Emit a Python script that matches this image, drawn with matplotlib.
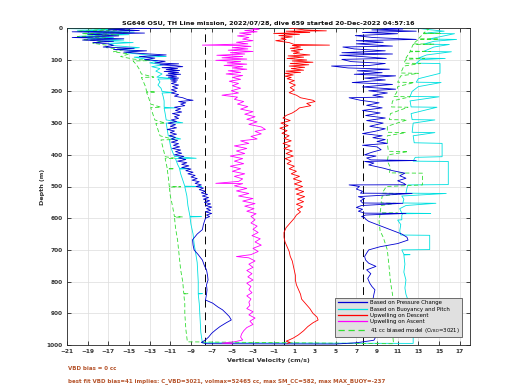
import matplotlib
matplotlib.use("Agg")
import matplotlib.pyplot as plt
import numpy as np

TITLE = "SG646 OSU, TH Line mission, 2022/07/28, dive 659 started 20-Dec-2022 04:57:16"
XTICKS = list(range(-21, 18, 2))
YTICKS = list(range(0, 1001, 100))
VLINE_DASHED = [-7.6, 7.6]
VLINE_SOLID = [0.0]
TEXT1 = "VBD bias = 0 cc"
TEXT2 = "best fit VBD bias=41 implies: C_VBD=3021, volmax=52465 cc, max SM_CC=582, max MAX_BUOY=-237"
LABELS = ["Based on Pressure Change", "Based on Buoyancy and Pitch", "Upwelling on Descent",
          "Upwelling on Ascent", "41 cc biased model (C$_{\\rm VBD}$=3021)"]

# (depth m, vertical velocity cm/s)
blue_descent = [(0,-12),(4,-17),(8,-14),(12,-20.5),(16,-13.5),(20,-19),(25,-16),(30,-20.5),(34,-15.5),
    (38,-19.5),(42,-16.5),(46,-18.5),(50,-17),(55,-16.5),(60,-17.5),(64,-14.5),(68,-16.5),(72,-13.3),
    (76,-15.5),(80,-14),(85,-11.4),(90,-14),(95,-12.5),(100,-13.5),(105,-11.5),
    (110,-12.5),(113,-10.2),(116,-12.0),(119,-10.4),(122,-9.8),(125,-11.8),(128,-10.3),(131,-11.4),
    (134,-10.1),(137,-11.6),(140,-10.2),(143,-11.2),(146,-10.0),(149,-11.4),(152,-10.4),(155,-11.2),
    (158,-10.2),(161,-11.0),(164,-10.3),(167,-10.9),(170,-10.4),(175,-10.9),(180,-10.2),(185,-10.8),
    (190,-10.3),(195,-10.9),(200,-10.4),(205,-10.9),(210,-10.2),(215,-10.6),(220,-9.8),(225,-9.4),
    (228,-8.8),(232,-10.2),(236,-9.5),(240,-10.0),(245,-9.6),(250,-10.6),(255,-10.0),(260,-10.5),
    (265,-9.9),(270,-10.8),(275,-10.1),(280,-10.6),(285,-10.2),(290,-10.9),(295,-10.4),(300,-11.2),
    (305,-10.5),(310,-11.0),(315,-10.4),(320,-11.3),(325,-10.6),(330,-11.0),(335,-10.4),(340,-11.1),
    (345,-10.5),(350,-10.9),(355,-10.3),(360,-10.9),(365,-10.2),(370,-10.7),(375,-10.1),(380,-10.8),
    (385,-10.0),(390,-10.5),(395,-9.9),(400,-10.6),(405,-9.7),(410,-10.2),(415,-9.5),(420,-10.3),
    (425,-9.4),(430,-9.9),(435,-9.2),(440,-9.9),(445,-9.0),(450,-9.5),(455,-8.8),(460,-9.3),
    (465,-8.6),(470,-9.0),(475,-8.4),(480,-8.9),(485,-8.2),(490,-8.6),(495,-8.0),(500,-8.5),
    (505,-7.8),(510,-8.2),(515,-7.6),(520,-8.0),(525,-7.4),(530,-7.9),(535,-7.3),(540,-7.8),
    (545,-7.2),(550,-7.7),(555,-7.1),(560,-7.6),(565,-7.0),(570,-7.5),(575,-7.1),(580,-7.6),
    (585,-7.0),(590,-7.5),(595,-7.2),(600,-7.6),
    (605,-7.65),(620,-7.8),(636,-7.9),(650,-8.4),(668,-8.85),(685,-8.8),(700,-8.7),(715,-8.3),
    (732,-7.9),(750,-7.7),(763,-7.5),(780,-7.4),(795,-7.35),(810,-7.5),(826,-7.45),(840,-7.5),
    (858,-7.6),(868,-6.9),(880,-6.4),(889,-5.95),(900,-5.6),(910,-5.3),(921,-5.1),(930,-5.6),
    (942,-6.2),(952,-6.6),(963,-7.0),(975,-7.3),(984,-7.6),(992,-8.0),(996,-7.5)]
blue_ascent = [(997,5.0),(993,7.0),(985,8.7),(973,8.9),(960,8.8),(952,8.5),(940,8.0),(931,7.8),
    (915,8.0),(900,8.2),(889,8.3),(875,8.5),(858,8.6),(840,8.7),(826,8.8),(815,8.5),(805,8.3),
    (790,8.1),(775,8.4),(763,8.0),(752,8.9),(742,8.2),(732,7.9),(721,7.8),(710,8.0),(700,8.2),
    (690,9.3),(680,11.0),(669,12.0),(660,11.9),(650,11.4),(640,10.6),(630,9.8),(620,9.0),(610,8.2),
    (603,7.9),(598,7.8),(595,7.5),(590,7.9),(585,11.8),(584,7.8),(578,7.2),(572,7.6),(566,7.0),
    (560,7.5),(553,11.5),(552,7.6),(545,7.4),(538,7.8),(532,7.2),(522,12.4),(521,7.4),(515,7.6),
    (508,7.0),(500,7.3),(495,6.3),(494.5,11.8),(490,11.6),(482,11.0),(474,11.8),(466,11.2),
    (458,11.7),(450,10.5),(442,9.6),(437,8.9),(432,8.2),(426,8.7),(421,7.8),(418,12.8),(416,8.4),
    (410,8.0),(404,8.9),(400,7.8),(392,8.5),(384,9.4),(375,9.0),(370,7.6),(364,10.0),(358,9.0),
    (352,9.8),(346,8.6),(340,9.5),(333,7.6),(326,8.8),(318,9.8),(310,8.3),(300,9.6),(292,8.0),
    (284,9.8),(276,7.9),(268,9.3),(260,7.6),(252,9.5),(244,8.0),(236,9.2),(228,7.4),(220,6.3),
    (218,9.6),(212,8.6),(205,10.0),(198,8.2),(193,10.8),(186,7.6),(178,10.5),(172,6.6),(164,9.8),
    (158,7.8),(151,10.8),(146,6.8),(141,9.5),(135,7.1),(130,10.2),(126,6.2),(120,4.6),(118,8.3),
    (112,9.8),(106,6.5),(99,5.6),(96,9.9),(90,7.5),(86,5.4),(82,10.5),(78,5.6),(72,9.8),(66,6.8),
    (60,5.7),(57,10.5),(50,7.0),(45,9.6),(40,7.0),(36,12.8),(30,8.6),(24,6.9),(18,11.0),(14,7.6),
    (10,12.8),(6,8.5),(3,11.5),(0,9.5)]

cyan_descent = [(0.5,13.0),(1,-22),(2,-21),(5,-16),(9,-20),(13,-14.5),(17,-19.5),(21,-15),(26,-19.8),
    (30,-16.5),(34,-19),(38,-15.5),(42,-18),(46,-14.6),(50,-17),(56,-16.3),(62,-14),(67,-16),
    (72,-14.2),(78,-15.3),(84,-13.5),(90,-11.4),(92,-14.5),(98,-13.4),(104,-12.2),(110,-13.0),
    (116,-11.7),(122,-12.8),(128,-12.0),(136,-12.4),(145,-11.8),(155,-12.3),(160,-10.5),(161,-12.2),
    (170,-12.0),(180,-12.2),(190,-11.9),(200,-11.8),(204,-10.8),(205,-11.8),(215,-11.7),(230,-11.6),
    (250,-11.6),(252,-10.5),(253,-11.6),(270,-11.5),(290,-11.4),(299,-9.8),(300,-11.4),(320,-11.3),
    (340,-11.2),(350,-10.0),(351,-11.1),(370,-11.0),(390,-10.8),(405,-10.6),(411,-8.5),(412,-10.5),
    (430,-10.3),(443,-10.1),(444,-9.2),(445,-10.1),(460,-10.0),(480,-9.8),(499,-9.6),(500,-8.0),
    (501,-9.6),(530,-9.4),(560,-9.3),(594,-9.1),(595,-8.0),(596,-9.1),(620,-9.0),(650,-8.8),
    (680,-8.7),(710,-8.55),(740,-8.4),(770,-8.35),(800,-8.3),(837,-8.3),(838,-7.9),(839,-8.3),
    (870,-8.2),(900,-8.15),(930,-8.1),(960,-8.05),(993,-7.9)]
cyan_ascent = [(995,12.5),(975,12.5),(955,12.3),(942,12.3),(920,12.2),(900,12.4),(880,12.3),
    (868,12.1),(858,12.0),(840,11.8),(820,11.7),(795,11.8),(770,11.6),(745,11.7),(716,11.6),
    (715,12.2),(714,11.6),(700,11.4),(699,14.1),(654,14.1),(653,11.3),(640,11.2),(620,11.3),
    (606,11.0),(605,11.4),(590,11.4),(586,11.5),(585,14.2),(584,11.4),(570,11.2),(560,11.8),
    (553,14.7),(552,11.5),(540,11.6),(530,11.4),(522,15.7),(521,11.8),(505,11.9),(495,12.0),
    (494,15.9),(421,15.9),(420,12.5),(408,12.7),(406,15.3),(364,15.3),(362,12.6),(340,12.5),
    (330,14.6),(329,12.4),(300,12.5),(290,14.6),(289,12.4),(270,12.3),(250,14.8),(249,12.3),
    (230,12.2),(217,15.0),(216,12.2),(200,12.4),(185,13.0),(172,15.2),(171,12.8),(160,13.0),
    (143,15.1),(112,15.1),(111,12.8),(100,13.2),(96,15.6),(95,13.0),(85,13.8),(75,16.2),(74,13.5),
    (60,14.5),(52,16.0),(51,13.5),(42,14.5),(36,16.7),(35,14.0),(25,15.5),(18,16.5),(17,13.5),
    (10,15.5),(5,14.0),(1,13.0)]

green_descent = [(2,-19),(6,-15),(10,-20),(14,-15),(18,-19.5),(22,-16),(27,-20),(32,-17),(37,-19.5),
    (42,-17.5),(48,-18.5),(55,-17),(62,-17.2),(68,-15.5),(75,-16.5),(82,-15.0),(90,-15.8),(98,-14.6),
    (103,-13.0),(104,-14.6),(115,-14.3),(130,-14.0),(145,-13.8),(155,-12.6),(156,-13.8),(170,-13.6),
    (185,-13.4),(200,-13.3),(202,-12.4),(203,-13.3),(220,-13.1),(240,-12.9),(250,-11.9),(251,-12.9),
    (270,-12.7),(290,-12.5),(300,-11.5),(301,-12.4),(320,-12.2),(340,-12.0),(352,-10.6),(353,-11.9),
    (380,-11.7),(406,-11.5),(411,-10.5),(412,-11.5),(443,-11.3),(444,-10.6),(445,-11.3),(470,-11.2),
    (500,-11.1),(501,-10.0),(502,-11.1),(530,-11.0),(560,-10.8),(595,-10.6),(596,-9.8),(597,-10.6),
    (630,-10.5),(669,-10.3),(700,-10.2),(732,-10.1),(763,-10.0),(800,-9.8),(837,-9.7),(838,-9.3),
    (839,-9.7),(870,-9.6),(900,-9.6),(950,-9.5),(990,-9.35)]
green_ascent = [(996,10.6),(960,10.5),(920,10.5),(890,10.4),(868,10.6),(840,10.5),(800,10.3),
    (763,10.2),(730,10.1),(700,10.0),(690,9.9),(660,9.6),(640,9.3),(610,9.2),(585,9.3),(584,11.0),
    (583,9.3),(560,9.4),(553,10.8),(552,9.4),(530,9.5),(522,11.5),(521,9.5),(500,9.9),(495,13.4),
    (458,13.4),(457,10.2),(440,10.3),(420,10.0),(400,10.1),(390,12.0),(389,10.1),(362,10.0),
    (340,10.0),(330,11.8),(329,10.0),(310,10.0),(290,11.9),(289,10.2),(270,10.3),(250,12.0),
    (249,10.4),(230,10.5),(217,12.2),(216,10.6),(204,10.9),(185,11.0),(172,12.6),(171,11.0),
    (151,11.3),(143,13.0),(142,11.3),(120,11.6),(112,13.2),(111,11.6),(99,11.8),(96,13.6),
    (95,11.8),(75,12.2),(74,14.2),(73,12.2),(52,12.5),(51,14.5),(50,12.5),(36,13.0),(35,15.0),
    (34,13.0),(18,13.5),(17,15.2),(16,13.5),(4,14.0),(1,13.5)]

red_descent = [(0,0.5),(6,2.0),(9,4.1),(10,0.2),(14,2.5),(17,-1.0),(20,1.5),(24,-0.5),(28,0.8),
    (32,-0.3),(36,0.2),(40,-0.8),(46,0.5),(52,1.0),(54,4.4),(55,0.8),(60,1.6),(64,0.6),(68,1.8),
    (72,0.7),(76,1.5),(80,0.9),(85,2.5),(88,0.4),(92,1.9),(96,0.3),(101,2.2),(104,0.8),(108,2.8),
    (112,0.6),(116,2.4),(120,0.5),(124,2.0),(128,0.7),(133,1.9),(136,0.2),(140,1.6),(143,0.1),
    (148,0.9),(152,0.1),(156,0.7),(160,0.3),(166,1.0),(172,0.5),(180,1.1),(188,0.6),(196,1.0),
    (204,0.5),(212,1.2),(220,1.6),(228,2.8),(232,3.0),(238,2.2),(245,2.6),(252,1.5),(260,1.2),
    (268,0.8),(276,0.2),(284,-0.1),(292,0.6),(300,-0.3),(308,0.4),(316,-0.4),(324,0.3),(332,-0.2),
    (340,0.5),(348,0.0),(356,0.7),(364,-0.1),(372,0.6),(380,0.0),(388,0.8),(396,0.2),(404,0.9),
    (412,0.1),(420,0.7),(428,0.3),(436,1.0),(444,0.5),(452,1.2),(460,0.7),(468,1.5),(476,0.9),
    (484,1.7),(492,1.0),(500,1.8),(508,1.1),(516,1.9),(524,1.2),(532,2.0),(540,1.3),(548,1.9),
    (556,1.2),(564,1.8),(572,1.3),(580,1.6),(590,1.2),(600,1.0),(615,0.6),(630,0.2),(645,0.0),
    (660,0.0),(675,0.1),(690,0.3),(705,0.5),(720,0.6),(735,0.8),(750,0.9),(765,1.0),(780,1.1),
    (795,1.1),(810,1.2),(825,1.4),(840,1.6),(855,1.7),(870,2.1),(885,2.5),(900,2.8),(912,3.2),
    (921,3.3),(930,2.8),(942,2.3),(955,1.9),(968,1.4),(978,0.9),(984,0.5),(988,0.2),(992,0.6),
    (995,0.3)]

magenta_ascent = [(0,-3.0),(4,-2.4),(8,-3.8),(12,-2.6),(16,-4.3),(20,-3.2),(25,-4.5),(30,-3.4),
    (35,-4.0),(40,-3.0),(45,-4.6),(50,-3.5),(54,-7.9),(55,-4.5),(58,-3.2),(62,-5.0),(66,-3.5),
    (70,-5.4),(74,-3.0),(78,-5.2),(82,-3.8),(86,-6.5),(90,-4.0),(94,-6.0),(98,-3.6),(102,-6.6),
    (106,-4.2),(110,-5.5),(114,-3.6),(118,-5.8),(122,-4.0),(126,-5.0),(130,-3.6),(135,-5.4),
    (140,-4.2),(145,-5.6),(150,-4.0),(156,-5.0),(162,-4.2),(168,-5.3),(175,-4.4),(182,-5.0),
    (190,-4.2),(198,-5.1),(205,-4.4),(212,-6.0),(218,-4.5),(225,-4.8),(232,-3.9),(240,-4.5),
    (248,-3.5),(256,-4.2),(264,-3.0),(272,-3.8),(280,-2.8),(288,-3.6),(296,-2.6),(304,-3.4),
    (312,-2.2),(320,-1.8),(326,-2.8),(334,-2.2),(342,-3.2),(350,-2.6),(356,-4.2),(364,-3.4),
    (372,-4.8),(380,-3.6),(388,-4.6),(396,-3.8),(404,-5.2),(412,-4.0),(420,-4.8),(428,-3.9),
    (436,-5.2),(444,-4.2),(452,-5.0),(460,-3.8),(468,-4.8),(476,-4.0),(484,-4.4),(490,-6.6),
    (491,-4.0),(498,-4.8),(506,-3.6),(514,-4.6),(522,-3.4),(530,-4.4),(538,-3.0),(546,-4.0),
    (554,-2.8),(562,-3.8),(570,-2.9),(578,-3.6),(586,-2.7),(594,-3.2),(605,-2.8),(615,-3.2),
    (625,-2.6),(635,-3.0),(645,-2.5),(655,-3.1),(665,-2.3),(675,-2.8),(685,-2.2),(695,-3.0),
    (705,-2.5),(715,-3.2),(721,-4.6),(725,-3.4),(735,-2.8),(745,-3.4),(755,-3.0),(765,-3.6),
    (775,-3.1),(785,-3.5),(795,-3.0),(805,-3.6),(815,-3.2),(825,-3.4),(835,-3.1),(845,-3.6),
    (855,-3.2),(865,-3.4),(875,-3.3),(885,-3.6),(895,-3.0),(905,-3.4),(915,-2.8),(925,-3.3),
    (935,-3.0),(945,-3.6),(955,-3.9),(965,-4.1),(975,-4.2),(984,-4.0),(990,-4.8),(994,-6.0),
    (996,-5.0)]


def split(pts):
    a = np.array(pts, dtype=float)
    return a[:, 1], a[:, 0]


fig = plt.figure(figsize=(5.2, 3.9), dpi=100)
ax = fig.add_axes([67/520, 1-345/390, 403/520, 317/390])

lw = 0.6
C_BLUE, C_CYAN, C_RED, C_MAG, C_GREEN = "#0000d0", "#00e0e0", "#ff0000", "#ff00ff", "#33dd33"

for x in VLINE_DASHED:
    ax.axvline(x, color="k", lw=0.7, ls=(0, (8, 5)), zorder=1)
for x in VLINE_SOLID:
    ax.axvline(x, color="k", lw=0.7, zorder=1)

v, d = split(blue_descent + blue_ascent)
hb, = ax.plot(v, d, color=C_BLUE, lw=lw, zorder=3)
v, d = split(cyan_descent + cyan_ascent)
hc, = ax.plot(v, d, color=C_CYAN, lw=lw, zorder=2)
v, d = split(red_descent)
hr, = ax.plot(v, d, color=C_RED, lw=lw, zorder=3)
v, d = split(magenta_ascent)
hm, = ax.plot(v, d, color=C_MAG, lw=lw, zorder=3)
v, d = split(green_descent + green_ascent)
hg, = ax.plot(v, d, color=C_GREEN, lw=lw, ls=(0, (5, 3)), zorder=2)

ax.set_xlim(-21, 18)
ax.set_ylim(1000, 0)
ax.set_xticks(XTICKS)
ax.set_yticks(YTICKS)
ax.tick_params(labelsize=4.2, direction="in", length=3, width=0.5, top=True, right=True, pad=3)
for lab in ax.get_xticklabels() + ax.get_yticklabels():
    lab.set_fontweight("bold")
    lab.set_color("#333333")
ax.grid(True, color="#dcdcdc", lw=0.5)
ax.set_axisbelow(True)
for s in ax.spines.values():
    s.set_linewidth(0.6)
    s.set_color("#262626")

ax.set_title(TITLE, fontsize=4.6, fontweight="bold", pad=2, color="#111111")
ax.set_xlabel("Vertical Velocity (cm/s)", fontsize=4.6, fontweight="bold", labelpad=3, color="#333333")
ax.set_ylabel("Depth (m)", fontsize=4.6, fontweight="bold", labelpad=1, color="#333333")

leg = ax.legend([hb, hc, hr, hm, hg], LABELS, loc="lower right", bbox_to_anchor=(0.98, 0.025),
                borderaxespad=0, fontsize=3.9, handlelength=5.4, handletextpad=0.5,
                labelspacing=0.25, borderpad=0.45, fancybox=False, framealpha=1)
leg.get_frame().set_facecolor("#e0e0e0")
leg.get_frame().set_edgecolor("#555555")
leg.get_frame().set_linewidth(0.6)
for ln in leg.get_lines():
    ln.set_linewidth(0.9)

fig.text(68/520, 1-368/390, TEXT1, fontsize=4.0, fontweight="bold", color="#b5532a", va="center")
fig.text(68/520, 1-381/390, TEXT2, fontsize=4.0, fontweight="bold", color="#b5532a", va="center")

fig.savefig("out.png", dpi=100)
